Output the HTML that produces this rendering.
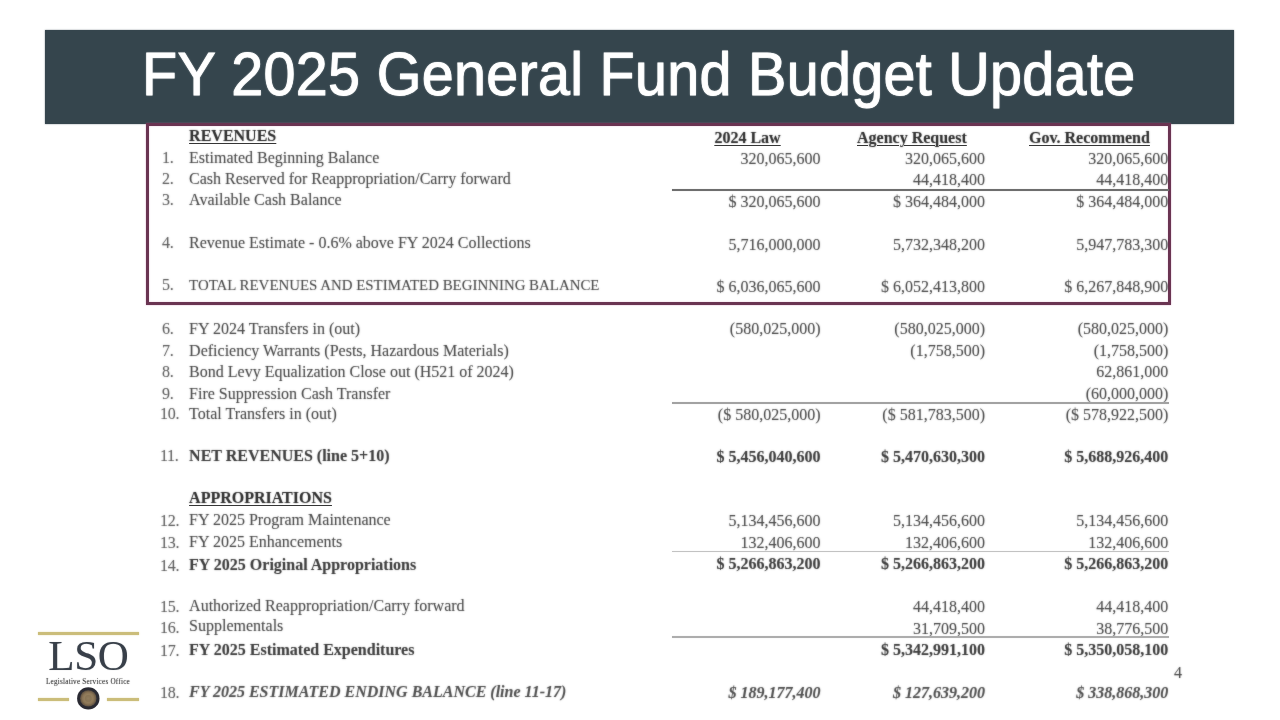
<!DOCTYPE html>
<html><head><meta charset="utf-8"><title>FY 2025 General Fund Budget Update</title>
<style>
html,body{margin:0;padding:0;background:#fff;}
body{width:1280px;height:720px;position:relative;overflow:hidden;font-family:"Liberation Serif",serif;}
.bar{position:absolute;left:45.3px;top:29.6px;width:1189.2px;height:94px;background:#35454d;box-shadow:0 0 1.5px rgba(53,69,77,0.6);}
.title{position:absolute;left:142.3px;top:39.0px;font-family:"Liberation Sans",sans-serif;font-size:60.5px;line-height:70px;color:#fff;white-space:nowrap;letter-spacing:0.32px;-webkit-text-stroke:0.9px #fff;text-shadow:0 0 2px rgba(255,255,255,0.75);transform:scaleX(0.95);transform-origin:0 0;}
.box{position:absolute;left:146.2px;top:123px;width:1019px;height:176px;border:3px solid #6a3452;box-sizing:content-box;box-shadow:0 0 1.5px rgba(190,110,160,0.55), inset 0 0 1.5px rgba(190,110,160,0.55);}
.t{position:absolute;font-size:16px;line-height:20px;white-space:nowrap;color:rgba(30,30,30,0.45);text-shadow:0 0 1.5px rgba(30,30,30,0.6);}
.n{}
.b{font-weight:bold;color:rgba(15,15,15,0.45);text-shadow:0 0 1.5px rgba(15,15,15,0.62);}
.bi{font-weight:bold;font-style:italic;color:rgba(20,20,20,0.38);text-shadow:0 0 1.5px rgba(20,20,20,0.58);}
.hdr{font-weight:bold;color:rgba(15,15,15,0.5);text-shadow:0 0 1.5px rgba(15,15,15,0.7);text-decoration:underline;text-decoration-color:rgba(20,20,20,0.5);text-decoration-thickness:1.3px;text-underline-offset:2.1px;}
.r{text-align:right;}
.rule{position:absolute;left:672.3px;width:496.7px;}
.pg{position:absolute;left:1174px;top:663px;font-size:16px;line-height:20px;color:rgba(30,30,30,0.45);text-shadow:0 0 1.5px rgba(30,30,30,0.6);}
#all{position:absolute;left:0;top:0;width:1280px;height:720px;will-change:transform;}
.num{font-size:16px;letter-spacing:-0.3px;color:rgba(40,40,40,0.4);text-shadow:0 0 1.5px rgba(40,40,40,0.55);}
</style></head><body><div id="all">
<div class="bar"></div>
<div class="title">FY 2025 General Fund Budget Update</div>
<div class="box"></div>

<div class="t hdr" style="left:189.1px;top:125.55px">REVENUES</div>
<div class="t hdr" style="left:714.4px;top:127.65px">2024 Law</div>
<div class="t hdr" style="left:857.0px;top:127.65px">Agency Request</div>
<div class="t hdr" style="left:1029.0px;top:127.65px">Gov. Recommend</div>
<div class="t num" style="left:162.1px;top:147.55px">1.</div>
<div class="t n" style="left:189.1px;top:147.55px">Estimated Beginning Balance</div>
<div class="t n r" style="left:620.5px;width:200px;top:149.05px">320,065,600</div>
<div class="t n r" style="left:785.0px;width:200px;top:149.05px">320,065,600</div>
<div class="t n r" style="left:968.3px;width:200px;top:149.05px">320,065,600</div>
<div class="t num" style="left:162.1px;top:168.80px">2.</div>
<div class="t n" style="left:189.1px;top:168.80px">Cash Reserved for Reappropriation/Carry forward</div>
<div class="t n r" style="left:785.0px;width:200px;top:170.25px">44,418,400</div>
<div class="t n r" style="left:968.3px;width:200px;top:170.25px">44,418,400</div>
<div class="t num" style="left:162.1px;top:190.05px">3.</div>
<div class="t n" style="left:189.1px;top:190.05px">Available Cash Balance</div>
<div class="t n r" style="left:620.5px;width:200px;top:191.85px">$ 320,065,600</div>
<div class="t n r" style="left:785.0px;width:200px;top:191.85px">$ 364,484,000</div>
<div class="t n r" style="left:968.3px;width:200px;top:191.85px">$ 364,484,000</div>
<div class="t num" style="left:162.1px;top:233.30px">4.</div>
<div class="t n" style="left:189.1px;top:233.30px">Revenue Estimate - 0.6% above FY 2024 Collections</div>
<div class="t n r" style="left:620.5px;width:200px;top:234.55px">5,716,000,000</div>
<div class="t n r" style="left:785.0px;width:200px;top:234.55px">5,732,348,200</div>
<div class="t n r" style="left:968.3px;width:200px;top:234.55px">5,947,783,300</div>
<div class="t num" style="left:162.1px;top:274.55px">5.</div>
<div class="t n" style="left:189.1px;top:274.55px;font-size:14.9px">TOTAL REVENUES AND ESTIMATED BEGINNING BALANCE</div>
<div class="t n r" style="left:620.5px;width:200px;top:276.95px">$ 6,036,065,600</div>
<div class="t n r" style="left:785.0px;width:200px;top:276.95px">$ 6,052,413,800</div>
<div class="t n r" style="left:968.3px;width:200px;top:276.95px">$ 6,267,848,900</div>
<div class="t num" style="left:162.1px;top:318.80px">6.</div>
<div class="t n" style="left:189.1px;top:318.80px">FY 2024 Transfers in (out)</div>
<div class="t n r" style="left:620.5px;width:200px;top:319.05px">(580,025,000)</div>
<div class="t n r" style="left:785.0px;width:200px;top:319.05px">(580,025,000)</div>
<div class="t n r" style="left:968.3px;width:200px;top:319.05px">(580,025,000)</div>
<div class="t num" style="left:162.1px;top:340.55px">7.</div>
<div class="t n" style="left:189.1px;top:340.55px">Deficiency Warrants (Pests, Hazardous Materials)</div>
<div class="t n r" style="left:785.0px;width:200px;top:340.55px">(1,758,500)</div>
<div class="t n r" style="left:968.3px;width:200px;top:340.55px">(1,758,500)</div>
<div class="t num" style="left:162.1px;top:362.05px">8.</div>
<div class="t n" style="left:189.1px;top:362.05px">Bond Levy Equalization Close out (H521 of 2024)</div>
<div class="t n r" style="left:968.3px;width:200px;top:362.05px">62,861,000</div>
<div class="t num" style="left:162.1px;top:383.80px">9.</div>
<div class="t n" style="left:189.1px;top:383.80px">Fire Suppression Cash Transfer</div>
<div class="t n r" style="left:968.3px;width:200px;top:383.55px">(60,000,000)</div>
<div class="t num" style="left:160.0px;top:403.80px">10.</div>
<div class="t n" style="left:189.1px;top:403.80px">Total Transfers in (out)</div>
<div class="t n r" style="left:620.5px;width:200px;top:405.05px">($ 580,025,000)</div>
<div class="t n r" style="left:785.0px;width:200px;top:405.05px">($ 581,783,500)</div>
<div class="t n r" style="left:968.3px;width:200px;top:405.05px">($ 578,922,500)</div>
<div class="t num" style="left:160.0px;top:446.30px">11.</div>
<div class="t b" style="left:189.1px;top:446.30px">NET REVENUES (line 5+10)</div>
<div class="t b r" style="left:620.5px;width:200px;top:447.05px">$ 5,456,040,600</div>
<div class="t b r" style="left:785.0px;width:200px;top:447.05px">$ 5,470,630,300</div>
<div class="t b r" style="left:968.3px;width:200px;top:447.05px">$ 5,688,926,400</div>
<div class="t hdr" style="left:189.1px;top:488.30px">APPROPRIATIONS</div>
<div class="t num" style="left:160.0px;top:511.05px">12.</div>
<div class="t n" style="left:189.1px;top:509.55px">FY 2025 Program Maintenance</div>
<div class="t n r" style="left:620.5px;width:200px;top:511.05px">5,134,456,600</div>
<div class="t n r" style="left:785.0px;width:200px;top:511.05px">5,134,456,600</div>
<div class="t n r" style="left:968.3px;width:200px;top:511.05px">5,134,456,600</div>
<div class="t num" style="left:160.0px;top:533.05px">13.</div>
<div class="t n" style="left:189.1px;top:532.05px">FY 2025 Enhancements</div>
<div class="t n r" style="left:620.5px;width:200px;top:532.55px">132,406,600</div>
<div class="t n r" style="left:785.0px;width:200px;top:532.55px">132,406,600</div>
<div class="t n r" style="left:968.3px;width:200px;top:532.55px">132,406,600</div>
<div class="t num" style="left:160.0px;top:555.55px">14.</div>
<div class="t b" style="left:189.1px;top:554.55px">FY 2025 Original Appropriations</div>
<div class="t b r" style="left:620.5px;width:200px;top:553.65px">$ 5,266,863,200</div>
<div class="t b r" style="left:785.0px;width:200px;top:553.65px">$ 5,266,863,200</div>
<div class="t b r" style="left:968.3px;width:200px;top:553.65px">$ 5,266,863,200</div>
<div class="t num" style="left:160.0px;top:597.05px">15.</div>
<div class="t n" style="left:189.1px;top:595.55px">Authorized Reappropriation/Carry forward</div>
<div class="t n r" style="left:785.0px;width:200px;top:597.15px">44,418,400</div>
<div class="t n r" style="left:968.3px;width:200px;top:597.15px">44,418,400</div>
<div class="t num" style="left:160.0px;top:618.05px">16.</div>
<div class="t n" style="left:189.1px;top:615.80px">Supplementals</div>
<div class="t n r" style="left:785.0px;width:200px;top:618.65px">31,709,500</div>
<div class="t n r" style="left:968.3px;width:200px;top:618.65px">38,776,500</div>
<div class="t num" style="left:160.0px;top:640.55px">17.</div>
<div class="t b" style="left:189.1px;top:639.55px">FY 2025 Estimated Expenditures</div>
<div class="t b r" style="left:785.0px;width:200px;top:639.65px">$ 5,342,991,100</div>
<div class="t b r" style="left:968.3px;width:200px;top:639.65px">$ 5,350,058,100</div>
<div class="t num" style="left:160.0px;top:683.05px">18.</div>
<div class="t bi" style="left:189.1px;top:682.05px">FY 2025 ESTIMATED ENDING BALANCE (line 11-17)</div>
<div class="t bi r" style="left:620.5px;width:200px;top:682.55px">$ 189,177,400</div>
<div class="t bi r" style="left:785.0px;width:200px;top:682.55px">$ 127,639,200</div>
<div class="t bi r" style="left:968.3px;width:200px;top:682.55px">$ 338,868,300</div>
<div class="rule" style="top:189.0px;height:1.5px;background:#6e6e6e;box-shadow:0 0 1px rgba(110,110,110,0.45)"></div>
<div class="rule" style="top:402.0px;height:1.9px;background:#a2a2a2;box-shadow:0 0 1px rgba(160,160,160,0.4)"></div>
<div class="rule" style="top:550.5px;height:1.9px;background:#c2c2c2;box-shadow:0 0 1px rgba(190,190,190,0.4)"></div>
<div class="rule" style="top:636.0px;height:1.9px;background:#adadad;box-shadow:0 0 1px rgba(170,170,170,0.4)"></div>
<div class="pg">4</div>
<div style="position:absolute;left:37.8px;top:632.3px;width:101px;height:3px;background:#cbbd7a;box-shadow:0 0 1.5px rgba(215,200,135,0.8)"></div>
<div style="position:absolute;left:37.8px;top:698px;width:31px;height:3px;background:#cbbd7a;box-shadow:0 0 1.5px rgba(215,200,135,0.8)"></div>
<div style="position:absolute;left:107.2px;top:698px;width:31.6px;height:3px;background:#cbbd7a;box-shadow:0 0 1.5px rgba(215,200,135,0.8)"></div>
<div style="position:absolute;left:48.3px;top:632.3px;font-size:43px;line-height:48px;color:rgba(38,46,56,0.88);text-shadow:0 0 1px rgba(38,46,56,0.3);letter-spacing:-0.4px;white-space:nowrap">LSO</div>
<div style="position:absolute;left:38px;top:677.4px;width:100px;text-align:center;font-size:7.2px;line-height:10px;color:rgba(45,45,45,0.75);text-shadow:0 0 1px rgba(45,45,45,0.6);white-space:nowrap;letter-spacing:0.22px">Legislative Services Office</div>
<svg style="position:absolute;left:76.2px;top:686.4px" width="25" height="25" viewBox="0 0 25 25"><defs><radialGradient id="sg" cx="50%" cy="50%" r="50%"><stop offset="0" stop-color="#a8926e"/><stop offset="0.7" stop-color="#8a7455"/><stop offset="1" stop-color="#5e5040"/></radialGradient><filter id="sb" x="-20%" y="-20%" width="140%" height="140%"><feGaussianBlur stdDeviation="0.5"/></filter></defs><g filter="url(#sb)"><circle cx="12.3" cy="12.4" r="11.2" fill="#2a2a33"/><circle cx="12.3" cy="12.4" r="8.2" fill="url(#sg)"/><circle cx="12.3" cy="12.4" r="3.4" fill="#75634a" opacity="0.45"/></g></svg>

</div></body></html>
